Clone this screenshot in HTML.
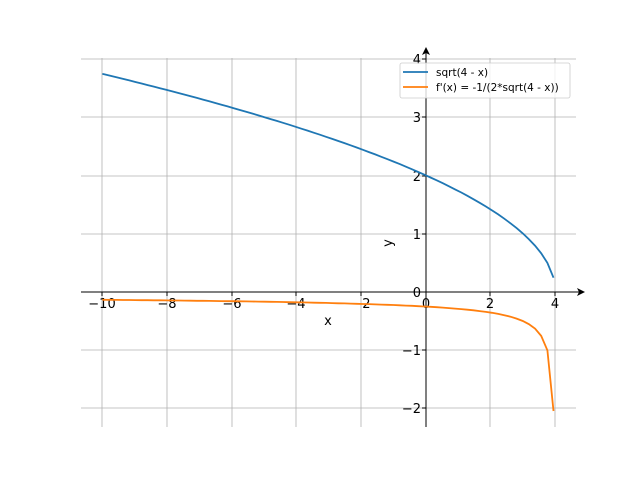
<!DOCTYPE html>
<html><head><style>
body{margin:0;background:#fff;}
svg text{font-family:"DejaVu Sans","Liberation Sans",sans-serif;}
</style></head><body>
<svg id="s" width="640" height="480" viewBox="0 0 640 480" xmlns="http://www.w3.org/2000/svg">
<rect width="640" height="480" fill="#fff"/>
<g stroke="#b0b0b0" stroke-width="0.8">
<line x1="102" y1="58" x2="102" y2="427"/>
<line x1="167" y1="58" x2="167" y2="427"/>
<line x1="232" y1="58" x2="232" y2="427"/>
<line x1="296" y1="58" x2="296" y2="427"/>
<line x1="361" y1="58" x2="361" y2="427"/>
<line x1="426" y1="58" x2="426" y2="427"/>
<line x1="490" y1="58" x2="490" y2="427"/>
<line x1="555" y1="58" x2="555" y2="427"/>
<line x1="81" y1="408" x2="576" y2="408"/>
<line x1="81" y1="350" x2="576" y2="350"/>
<line x1="81" y1="234" x2="576" y2="234"/>
<line x1="81" y1="176" x2="576" y2="176"/>
<line x1="81" y1="117" x2="576" y2="117"/>
<line x1="81" y1="59" x2="576" y2="59"/>
</g>
<g stroke="#000" stroke-width="1">
<line x1="81" y1="292" x2="580" y2="292"/>
<line x1="426" y1="427" x2="426" y2="52"/>
<line x1="102" y1="292" x2="102" y2="296"/><line x1="167" y1="292" x2="167" y2="296"/>
<line x1="232" y1="292" x2="232" y2="296"/><line x1="296" y1="292" x2="296" y2="296"/>
<line x1="361" y1="292" x2="361" y2="296"/><line x1="426" y1="292" x2="426" y2="296"/>
<line x1="490" y1="292" x2="490" y2="296"/><line x1="555" y1="292" x2="555" y2="296"/>
<line x1="422" y1="408" x2="426" y2="408"/><line x1="422" y1="350" x2="426" y2="350"/>
<line x1="422" y1="292" x2="426" y2="292"/><line x1="422" y1="234" x2="426" y2="234"/>
<line x1="422" y1="176" x2="426" y2="176"/><line x1="422" y1="117" x2="426" y2="117"/>
<line x1="422" y1="59" x2="426" y2="59"/>
</g>
<path d="M585 292 L577 288 L579 292 L577 296 Z" fill="#000"/>
<path d="M426 47 L422 55 L426 53 L430 55 Z" fill="#000"/>
<g font-size="13" fill="#000" text-anchor="middle">
<text x="102" y="308">−10</text><text x="167" y="308">−8</text><text x="232" y="308">−6</text>
<text x="296" y="308">−4</text><text x="361" y="308">−2</text><text x="426" y="308">0</text>
<text x="490" y="308">2</text><text x="555" y="308">4</text>
</g>
<g font-size="13" fill="#000" text-anchor="end">
<text x="421" y="413">−2</text><text x="421" y="355">−1</text><text x="421" y="297">0</text>
<text x="421" y="239">1</text><text x="421" y="181">2</text><text x="421" y="122">3</text>
<text x="421" y="64">4</text>
</g>
<text x="328" y="325" font-size="13" text-anchor="middle">x</text>
<text x="392" y="243" font-size="13" text-anchor="middle" transform="rotate(-90 392 243)">y</text>
<path id="p1" fill="none" stroke="#1f77b4" stroke-width="1.8"/>
<path id="p2" fill="none" stroke="#ff7f0e" stroke-width="1.8"/>
<rect x="400" y="63" width="170" height="35" rx="2" fill="#fff" fill-opacity="0.8" stroke="#ccc" stroke-width="0.8"/>
<line x1="403" y1="72" x2="428" y2="72" stroke="#1f77b4" stroke-width="1.8"/>
<line x1="403" y1="87" x2="428" y2="87" stroke="#ff7f0e" stroke-width="1.8"/>
<text x="436" y="76" font-size="10.5">sqrt(4 - x)</text>
<text x="436" y="91" font-size="10.5">f'(x) = -1/(2*sqrt(4 - x))</text>
</svg>
<script>
var X=function(x){return 426+x*32.36},Y=function(y){return 292-y*58.3};
var xs=[];for(var k=0;k<=74;k++){var x=3.94-k*0.19;if(x<-10)x=-10;xs.unshift(x);if(x<=-10)break;}
var a="",b="";
for(var i=0;i<xs.length;i++){var x=xs[i];var s=Math.sqrt(4-x);var c=i?"L":"M";a+=c+X(x).toFixed(1)+" "+Y(s).toFixed(1);b+=c+X(x).toFixed(1)+" "+Y(-1/(2*s)).toFixed(1);}
document.getElementById("p1").setAttribute("d",a);
document.getElementById("p2").setAttribute("d",b);
</script>
</body></html>
